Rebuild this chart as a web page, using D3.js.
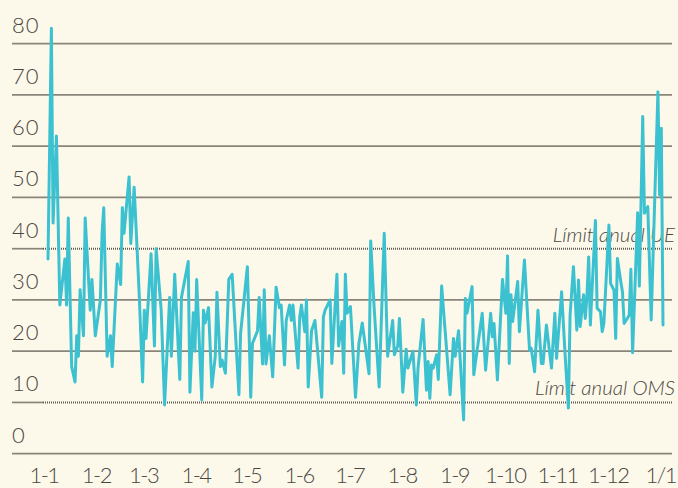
<!DOCTYPE html>
<html>
<head>
<meta charset="utf-8">
<script src="https://cdn.jsdelivr.net/npm/d3@7"></script>
<style>
  html, body { margin: 0; padding: 0; background: #fdf9ea; }
  svg { display: block; }
  .tick-label { font-family: Lato, "Open Sans", sans-serif; font-weight: 300; font-size: 22px; fill: #4a4743; }
  .limit-label { font-family: Lato, "Open Sans", sans-serif; font-weight: 300; font-style: italic; font-size: 20.5px; fill: #4a4743; }
</style>
</head>
<body>
<svg id="chart" width="678" height="488"></svg>
<script>
// day of year (0 = 1 Jan) and daily NO2 value
const days = [0, 2, 3, 5, 7, 10, 11, 12, 14, 16, 17, 18, 19, 21, 22, 25, 26, 28, 31, 32,
  33, 35, 37, 38, 41, 43, 44, 45, 48, 49, 51, 54, 56, 57, 58, 61, 63, 64, 67, 69,
  72, 73, 75, 78, 79, 83, 84, 86, 87, 88, 91, 92, 93, 95, 97, 99, 100, 102, 103, 105,
  107, 109, 113, 114, 118, 120, 121, 124, 125, 127, 128, 129, 131, 133, 135, 137, 138, 140, 141, 143,
  144, 145, 148, 149, 150, 152, 153, 154, 156, 158, 162, 163, 164, 167, 168, 171, 172, 174, 175, 176,
  177, 179, 182, 184, 186, 190, 191, 193, 196, 199, 201, 204, 205, 207, 208, 210, 212, 213, 216, 218,
  219, 222, 224, 225, 226, 227, 228, 230, 231, 233, 238, 240, 241, 243, 246, 247, 248, 251, 252, 257,
  259, 262, 263, 264, 266, 269, 271, 272, 273, 274, 275, 278, 279, 282, 285, 286, 288, 290, 292, 293,
  295, 298, 300, 301, 304, 306, 308, 309, 311, 313, 314, 315, 317, 318, 319, 320, 321, 324, 325, 327,
  328, 329, 332, 333, 335, 336, 337, 339, 340, 341, 344, 345, 346, 349, 350, 352, 353, 355, 357, 361,
  362, 363, 364];
const no2 = [38, 83, 45, 62, 29, 38, 29, 46, 17, 14, 23, 19, 32, 23, 46, 28, 34, 23, 30, 43,
  48, 19, 23, 17, 37, 33, 48, 43, 54, 41, 52, 31, 14, 28, 22.5, 39, 21, 40, 28, 9.5,
  30.5, 19, 35, 14.5, 30.5, 37.5, 12, 27.5, 20, 34, 10.5, 28, 25.5, 28.5, 13, 19, 31.5, 17, 18.3, 15.7,
  34, 35, 11.5, 23.5, 36.5, 11, 21.5, 24, 30.5, 17.5, 32, 17.5, 23, 15, 32.5, 28.5, 29, 17.3, 26, 29,
  26, 29, 16.7, 26.7, 29, 23.8, 30, 13, 24, 26, 11, 26.7, 28, 30, 17.6, 35, 21, 25.8, 15.7, 35,
  27.4, 28.7, 11, 21.5, 25.5, 15.6, 41.5, 28.7, 13, 43, 19, 26, 19.3, 21, 26.4, 12, 20.4, 16.7, 20, 9.5,
  16.7, 26.2, 12.4, 18, 10.8, 17.3, 16.7, 19.3, 14.5, 32.7, 11.5, 22.5, 19, 24, 6.6, 30.3, 27.4, 32.6, 15.4, 27.4,
  16.3, 27.4, 22.8, 25.4, 14.4, 34, 27.4, 38.6, 17.6, 31, 25.8, 33.6, 23.8, 37.8, 20.2, 20.6, 16, 28, 17.6, 17.6,
  25.1, 16.7, 27.4, 18.6, 31.6, 19.6, 8.9, 27, 36.5, 24.1, 33.9, 24.8, 31, 26.4, 30.8, 38.4, 25.1, 45.5, 28.4, 27.7,
  23.8, 25.4, 44.6, 33.2, 31.9, 22.5, 38.1, 33.6, 31.6, 25.4, 27, 36, 19.7, 47, 32.7, 65.8, 46.9, 48.2, 26.1, 70.6,
  50.5, 63.5, 25.1];

const monthLabels = ['1-1', '1-2', '1-3', '1-4', '1-5', '1-6', '1-7', '1-8', '1-9', '1-10', '1-11', '1-12', '1/1'];
const gridValues = [0, 10, 20, 30, 40, 50, 60, 70, 80];
const limitValues = [40, 10];
const limitLabels = ['Límit anual UE', 'Límit anual OMS'];

const year = 2022;
const start = new Date(year, 0, 1);

const x = d3.scaleTime()
  .domain([start, new Date(year, 11, 31)])
  .range([48, 663]);
const y = d3.scaleLinear()
  .domain([0, 80])
  .range([453.7, 43.7]);

const svg = d3.select('#chart');
const left = 12, right = 672, dotStart = 43;

// gridlines (limit lines are dotted further on)
svg.selectAll('.grid')
  .data(gridValues)
  .join('line')
  .attr('class', 'grid')
  .attr('x1', left)
  .attr('x2', (v) => (limitValues.includes(v) ? dotStart : right))
  .attr('y1', (v) => y(v))
  .attr('y2', (v) => y(v))
  .attr('stroke', '#8a857b')
  .attr('stroke-width', 1.7);

svg.selectAll('.limit')
  .data(limitValues)
  .join('line')
  .attr('class', 'limit')
  .attr('x1', dotStart)
  .attr('x2', right)
  .attr('y1', (v) => y(v))
  .attr('y2', (v) => y(v))
  .attr('stroke', '#5f5a53')
  .attr('stroke-width', 2)
  .attr('stroke-dasharray', '1,1');

// y labels sit above their gridline
svg.selectAll('.ylab')
  .data(gridValues)
  .join('text')
  .attr('class', 'tick-label ylab')
  .attr('x', left)
  .attr('y', (v) => y(v) - 11)
  .attr('font-size', 23)
  .attr('letter-spacing', 1)
  .text((v) => v);

// month labels
const months = d3.timeMonth.range(start, new Date(year + 1, 0, 2));
svg.selectAll('.xlab')
  .data(months)
  .join('text')
  .attr('class', 'tick-label xlab')
  .attr('x', (d) => x(d) - 4)
  .attr('y', 483)
  .attr('text-anchor', 'middle')
  .attr('letter-spacing', -1.5)
  .text((d, i) => monthLabels[i]);

svg.selectAll('.limit-label')
  .data(limitValues)
  .join('text')
  .attr('class', 'limit-label')
  .attr('x', 675)
  .attr('y', (v) => y(v) - 7)
  .attr('text-anchor', 'end')
  .text((v, i) => limitLabels[i]);

const points = days.map((d, i) => ({date: d3.timeDay.offset(start, d), v: no2[i]}));
const line = d3.line()
  .x((p) => x(p.date))
  .y((p) => y(p.v));

svg.append('path')
  .datum(points)
  .attr('d', line)
  .attr('fill', 'none')
  .attr('stroke', '#3cc1d1')
  .attr('stroke-width', 3)
  .attr('stroke-linejoin', 'round')
  .attr('stroke-linecap', 'round');
</script>
</body>
</html>
